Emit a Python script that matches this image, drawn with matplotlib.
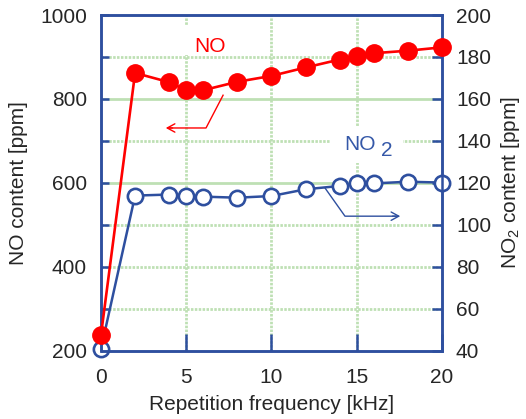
import matplotlib
matplotlib.use("Agg")
import matplotlib.pyplot as plt
from matplotlib.ticker import MultipleLocator, FixedLocator, NullFormatter
from matplotlib.patches import Rectangle

plt.rcParams['font.family'] = ['Liberation Sans', 'DejaVu Sans']
plt.rcParams['mathtext.fontset'] = 'custom'
plt.rcParams['mathtext.rm'] = 'Liberation Sans'

# Measured concentrations versus pulse repetition frequency
freq_khz = [0, 2, 4, 5, 6, 8, 10, 12, 14, 15, 16, 18, 20]
no_ppm = [238, 862, 840, 821, 821, 841, 855, 875, 894, 903, 909, 915, 923]
no2_ppm = [41, 114, 114.5, 114, 113.5, 113, 113.8, 117, 118.6, 119.8, 119.8, 120.6, 120.2]

x_ticks = [0, 5, 10, 15, 20]
no_ticks = [200, 400, 600, 800, 1000]
no2_ticks = [40, 60, 80, 100, 120, 140, 160, 180, 200]

BLUE = '#2E4F9F'
RED = '#FF0000'
GRID = '#BEE0B4'
TXT = '#262626'
FS = 15

fig = plt.figure(figsize=(5.26, 4.19), dpi=100)
ax = fig.add_axes([0.192, 0.1623, 0.6483, 0.8019])
ax2 = ax.twinx()
# NO (left axis) is drawn above NO2 (right axis)
ax.set_zorder(ax2.get_zorder() + 1)
ax.patch.set_visible(False)

ax.set_xlim(0, 20)
ax.set_ylim(200, 1000)
ax2.set_ylim(40, 200)

# background grid on the lower axes
for xv in [5, 10, 15]:
    ax2.axvline(xv, color=GRID, lw=2.0, ls=(0, (0.9, 0.5)), zorder=0)
for yv in [60, 80, 100, 120, 140, 160, 180]:
    ls = '-' if yv in (120, 160) else (0, (0.9, 0.5))
    ax2.axhline(yv, color=GRID, lw=2.0, ls=ls, zorder=0)

# white patches behind the series labels
ax2.add_patch(Rectangle((4.9, 905), 3.1, 72, transform=ax.transData,
                        fc='white', ec='none', zorder=0.5))
ax2.add_patch(Rectangle((13.45, 648), 4.25, 86, transform=ax.transData,
                        fc='white', ec='none', zorder=0.5))

# NO2 series (open circles, right axis)
ax2.plot(freq_khz, no2_ppm, color=BLUE, lw=1.8, marker='o', ms=11,
         mfc='white', mec=BLUE, mew=1.9, zorder=3, clip_on=False)
# NO series (filled circles, left axis)
ax.plot(freq_khz, no_ppm, color=RED, lw=1.9, marker='o', ms=12.5,
        mfc=RED, mec=RED, zorder=3, clip_on=False)

# series labels and pointer arrows
ax.text(6.4, 925, 'NO', color=RED, fontsize=FS, ha='center', va='center')
ax.text(15.2, 691, 'NO', color='#3558A8', fontsize=FS, ha='center', va='center')
ax.text(16.78, 678, '2', color='#3558A8', fontsize=FS, ha='center', va='center')

ax.plot([7.16, 6.16, 4.0], [809, 731, 731], color=RED, lw=1.0, zorder=2)
ax.annotate('', xy=(3.8, 731), xytext=(4.2, 731),
            arrowprops=dict(arrowstyle='->,head_length=0.55,head_width=0.3',
                            color=RED, lw=1.0, shrinkA=0, shrinkB=0))
ax.plot([13.14, 14.31, 17.3], [588, 521, 521], color=BLUE, lw=1.0, zorder=2)
ax.annotate('', xy=(17.55, 521), xytext=(17.1, 521),
            arrowprops=dict(arrowstyle='->,head_length=0.55,head_width=0.3',
                            color=BLUE, lw=1.0, shrinkA=0, shrinkB=0))

# spines
for a in (ax, ax2):
    for s in a.spines.values():
        s.set_color(BLUE)
        s.set_linewidth(1.8)

# ticks
ax.xaxis.set_major_locator(FixedLocator(x_ticks))
ax.yaxis.set_major_locator(FixedLocator(no_ticks))
ax.yaxis.set_minor_locator(MultipleLocator(100))
ax.yaxis.set_minor_formatter(NullFormatter())
ax2.yaxis.set_major_locator(FixedLocator(no2_ticks))

ax.tick_params(axis='x', which='major', direction='in', length=12.5, width=1.8,
               color=BLUE, labelsize=FS, labelcolor=TXT, pad=12, top=False)
ax.tick_params(axis='y', which='both', direction='in', length=6, width=1.8,
               color=BLUE, labelsize=FS, labelcolor=TXT, pad=10, right=False)
ax2.tick_params(axis='y', which='major', direction='in', length=7, width=1.8,
                color=BLUE, labelsize=FS, labelcolor=TXT, pad=10)

ax.set_xlabel('Repetition frequency [kHz]', fontsize=FS, color=TXT, labelpad=6)
ax.set_ylabel('NO content [ppm]', fontsize=FS, color=TXT, labelpad=9)
ax2.set_ylabel(r'NO$_{\mathregular{2}}$ content [ppm]', fontsize=FS, color=TXT,
               labelpad=6)

fig.savefig('out.png', dpi=100)
